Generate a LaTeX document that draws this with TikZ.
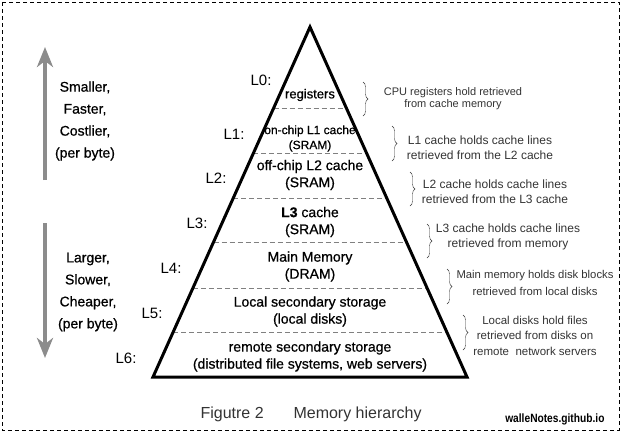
\documentclass[tikz,border=0pt]{standalone}
\usepackage{fontspec}
\setmainfont{Liberation Sans}
\newfontfamily\medfont[FakeBold=0.7]{Liberation Sans}
\usetikzlibrary{arrows.meta,calc,decorations.pathreplacing}
\definecolor{arrowgray}{HTML}{8C8C8C}
\definecolor{notegray}{HTML}{333333}
\tikzset{
  lvl/.style={font=\fontsize{15}{15}\selectfont},
  band/.style={align=center,font=\medfont\fontsize{14}{17}\selectfont},
  side/.style={align=center,font=\medfont\fontsize{14}{22}\selectfont},
  note/.style={align=center,text=notegray,font=\fontsize{12}{15}\selectfont},
  curly/.style={decorate,decoration={brace,amplitude=5pt},thin,notegray},
  sep/.style={gray,dash pattern=on 5pt off 3pt},
  bigarrow/.style={arrowgray,line width=3.5pt,-{Stealth[length=20pt,width=16pt,inset=6pt]}}
}
\begin{document}
\begin{tikzpicture}[x=1pt,y=-1pt]
\useasboundingbox (0,0) rectangle (621,432);
\draw[dash pattern=on 4pt off 3pt,line width=1pt] (2,2) rectangle (619,430);
% pyramid
\coordinate (top) at (310,27);
\coordinate (bl) at (153,377);
\coordinate (br) at (467,377);
\foreach \y in {108,153,198,242,288,332}
  \draw[sep] ($(top)!{(\y-27)/350}!(bl)$) -- ($(top)!{(\y-27)/350}!(br)$);
\draw[line width=3pt] (top) -- (br) -- (bl) -- cycle;
\node[band,font=\medfont\fontsize{13}{17}\selectfont] (reg) at (310,95) {registers};
\node[band,font=\medfont\fontsize{12}{15}\selectfont] (l1) at (310,138.5) {on-chip L1 cache\\(SRAM)};
\node[band] (l2) at (310,175) {off-chip L2 cache\\(SRAM)};
\node[band] (l3) at (310,222) {\textbf{L3} cache\\(SRAM)};
\node[band] (mem) at (310,266.5) {Main Memory\\(DRAM)};
\node[band] (loc) at (310,311.5) {Local secondary storage\\(local disks)};
\node[band] (rem) at (310,356.5) {remote secondary storage\\(distributed file systems, web servers)};
% levels
\foreach \n/\x/\y in {0/261/80,1/234/134,2/216/178,3/197/223,4/171/268,5/152/313,6/126/358}
  \node[lvl] (L\n) at (\x,\y) {L\n:};
% left side
\node[side] (up) at (85,121) {Smaller,\\Faster,\\Costlier,\\(per byte)};
\node[side] (down) at (88,292) {Larger,\\Slower,\\Cheaper,\\(per byte)};
\coordinate (upS) at (45,180);
\coordinate (upE) at (45,47);
\coordinate (downS) at (45,223);
\coordinate (downE) at (45,358);
\draw[bigarrow] (upS) -- (upE);
\draw[bigarrow] (downS) -- (downE);
% braces
\foreach \x/\a/\b in {363/82/116,392/126/161,410/172/206,427/224/258,447/269/304,463/315/350}
  \draw[curly] (\x,\a) -- (\x,\b);
\node[note,font=\fontsize{11}{12}\selectfont] (n0) at (453,99) {CPU registers hold retrieved\\from cache memory};
\node[note] (n1) at (480,147.5) {L1 cache holds cache lines\\retrieved from the L2 cache};
\node[note] (n2) at (495,191.5) {L2 cache holds cache lines\\retrieved from the L3 cache};
\node[note] (n3) at (508,236.5) {L3 cache holds cache lines\\retrieved from memory};
\node[note,font=\fontsize{11.3}{17}\selectfont] (n4) at (535,282.5) {Main memory holds disk blocks\\retrieved from local disks};
\node[note,font=\fontsize{11.5}{15.5}\selectfont] (n5) at (535,335.5) {Local disks hold files\\retrieved from disks on\\remote\ \ network servers};
% caption
\node[anchor=base west,text=notegray,font=\fontsize{16}{16}\selectfont] (fig) at (197,418) {Figutre 2};
\node[anchor=base west,text=notegray,font=\fontsize{16}{16}\selectfont] (cap) at (290,418) {Memory hierarchy};
\node[anchor=base east,font=\bfseries\fontsize{12}{12}\selectfont] (src) at (608,422) {\scalebox{0.85}[1]{walleNotes.github.io}};
\end{tikzpicture}
\end{document}
